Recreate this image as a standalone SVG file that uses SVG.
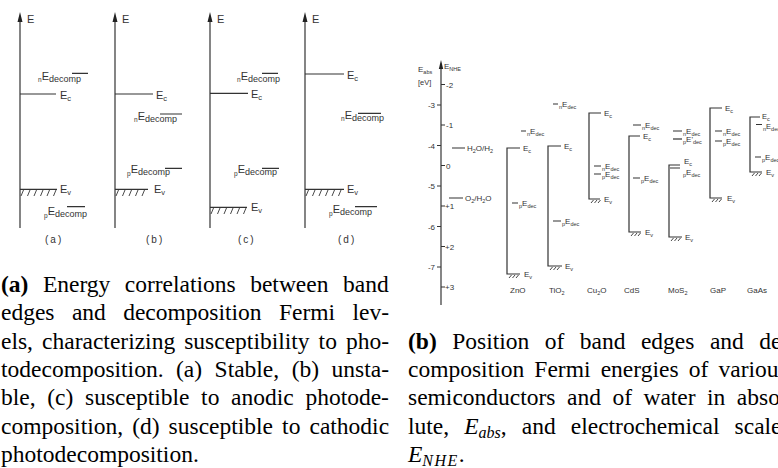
<svg xmlns="http://www.w3.org/2000/svg" width="778" height="468" viewBox="0 0 778 468">
<style>
.ln{stroke:#333;stroke-width:1.2;fill:none}
.ax{stroke:#444;stroke-width:1.3;fill:none}
.hb{stroke:#333;stroke-width:0.9;fill:none}
.arr{fill:#222}
.t{font-family:"Liberation Sans",Arial,sans-serif;fill:#333}
.L{font-size:11px}
.Ls{font-size:7.5px}
.Ld{font-size:9px}
.Lxs{font-size:6.5px}
.R{font-size:8px}
.Rs{font-size:5.5px}
.cap{font-family:"Liberation Serif","Times New Roman",serif;font-size:23.5px;fill:#000}
.sub{font-size:16px}
</style>
<rect width="778" height="468" fill="#fff"/>

<g id="connectors">
<path class="ax" d="M20,20V228 M115,20V228 M210,20V228 M305,20V228"/>
<path class="arr" d="M20,12L17.5,22H22.5Z M115,12L112.5,22H117.5Z M210,12L207.5,22H212.5Z M305,12L302.5,22H307.5Z"/>
<path class="ax" d="M441,68V305"/>
<path class="arr" d="M441,60L438.8,69H443.2Z"/>
<path class="ln" d="M437,105H441 M437,145.5H441 M437,186H441 M437,226.5H441 M437,267H441 M441,84.5H445 M441,125H445 M441,165.5H445 M441,206H445 M441,246.5H445 M441,287H445"/>
</g>

<g id="panel-a">
<text class="t L" x="27" y="23">E</text>
<path class="ln" d="M20,94H56 M20,189.3H57 M72,73.3H88 M67,206.7H85"/>
<path class="hb" d="M21,196L23.5,190 M27.5,196L30,190 M34,196L36.5,190 M40.5,196L43,190 M47,196L49.5,190 M53.5,196L56,190"/>
<text class="t L" x="60" y="99">E<tspan class="Ls" y="101">c</tspan></text>
<text class="t L" x="60" y="193">E<tspan class="Ls" y="195">v</tspan></text>
<text class="t" x="38" y="80"><tspan class="Lxs" y="82">n</tspan><tspan class="L" y="80">E</tspan><tspan class="Ld" y="82">decomp</tspan></text>
<text class="t" x="44" y="215"><tspan class="Lxs" y="218">p</tspan><tspan class="L" y="215">E</tspan><tspan class="Ld" y="217">decomp</tspan></text>
<text class="t" x="45" y="243" font-size="10" letter-spacing="2">(a)</text>
</g>

<g id="panel-b">
<text class="t L" x="122" y="23">E</text>
<path class="ln" d="M115,94H153 M115,189.3H148 M160,114H182 M165,168.3H182"/>
<path class="hb" d="M116,196L118.5,190 M122.5,196L125,190 M129,196L131.5,190 M135.5,196L138,190 M142,196L144.5,190"/>
<text class="t L" x="156" y="99">E<tspan class="Ls" y="101">c</tspan></text>
<text class="t L" x="154" y="193">E<tspan class="Ls" y="195">v</tspan></text>
<text class="t" x="134" y="120"><tspan class="Lxs" y="122">n</tspan><tspan class="L" y="120">E</tspan><tspan class="Ld" y="122">decomp</tspan></text>
<text class="t" x="127" y="173"><tspan class="Lxs" y="176">p</tspan><tspan class="L" y="173">E</tspan><tspan class="Ld" y="175">decomp</tspan></text>
<text class="t" x="146" y="243" font-size="10" letter-spacing="2">(b)</text>
</g>

<g id="panel-c">
<text class="t L" x="217" y="23">E</text>
<path class="ln" d="M210,93.3H248 M210,207.3H247 M262,73.3H278 M262,168.3H279"/>
<path class="hb" d="M211,214L213.5,208 M217.5,214L220,208 M224,214L226.5,208 M230.5,214L233,208 M237,214L239.5,208 M243.5,214L246,208"/>
<text class="t L" x="251" y="98">E<tspan class="Ls" y="100">c</tspan></text>
<text class="t L" x="251" y="211">E<tspan class="Ls" y="213">v</tspan></text>
<text class="t" x="237" y="80"><tspan class="Lxs" y="82">n</tspan><tspan class="L" y="80">E</tspan><tspan class="Ld" y="82">decomp</tspan></text>
<text class="t" x="234" y="173"><tspan class="Lxs" y="176">p</tspan><tspan class="L" y="173">E</tspan><tspan class="Ld" y="175">decomp</tspan></text>
<text class="t" x="238" y="243" font-size="10" letter-spacing="2">(c)</text>
</g>

<g id="panel-d">
<text class="t L" x="312" y="23">E</text>
<path class="ln" d="M305,74H344 M305,189.3H344 M358,113.3H381 M355,206.7H377"/>
<path class="hb" d="M306,196L308.5,190 M312.5,196L315,190 M319,196L321.5,190 M325.5,196L328,190 M332,196L334.5,190 M338.5,196L341,190"/>
<text class="t L" x="347" y="79">E<tspan class="Ls" y="81">c</tspan></text>
<text class="t L" x="347" y="193">E<tspan class="Ls" y="195">v</tspan></text>
<text class="t" x="341" y="119"><tspan class="Lxs" y="121">n</tspan><tspan class="L" y="119">E</tspan><tspan class="Ld" y="121">decomp</tspan></text>
<text class="t" x="329" y="213"><tspan class="Lxs" y="216">p</tspan><tspan class="L" y="213">E</tspan><tspan class="Ld" y="215">decomp</tspan></text>
<text class="t" x="338" y="243" font-size="10" letter-spacing="2">(d)</text>
</g>

<g id="axis-labels">
<text class="t R" x="418" y="72">E<tspan class="Rs" y="74">abs</tspan></text>
<text class="t" x="418" y="85" font-size="7.5">[eV]</text>
<text class="t R" x="444" y="69">E<tspan class="Rs" y="71">NHE</tspan></text>
<g class="t" font-size="8" text-anchor="end">
<text x="435" y="108">-3</text>
<text x="435" y="148.5">-4</text>
<text x="435" y="189">-5</text>
<text x="435" y="229.5">-6</text>
<text x="435" y="270">-7</text>
</g>
<g class="t" font-size="8">
<text x="446" y="87.5">-2</text>
<text x="446" y="128">-1</text>
<text x="446" y="168.5">0</text>
<text x="445" y="209">+1</text>
<text x="445" y="249.5">+2</text>
<text x="445" y="290">+3</text>
</g>
</g>

<g id="water">
<path class="ln" d="M452,148H465 M449,198H463"/>
<text class="t R" x="467" y="151">H<tspan class="Rs" y="153">2</tspan><tspan y="151">O/H</tspan><tspan class="Rs" y="153">2</tspan></text>
<text class="t R" x="465" y="201">O<tspan class="Rs" y="203">2</tspan><tspan y="201">/H</tspan><tspan class="Rs" y="203">2</tspan><tspan y="201">O</tspan></text>
</g>

<g id="ZnO">
<path class="ln" d="M520,148H507V274H520 M521,131H526 M512,203H518"/>
<path class="hb" d="M509,278L511.5,275 M512.5,278L515,275 M516,278L518.5,275"/>
<text class="t R" x="523" y="151">E<tspan class="Rs" y="153">c</tspan></text>
<text class="t R" x="524" y="277">E<tspan class="Rs" y="279">v</tspan></text>
<text class="t" x="527" y="134"><tspan class="Rs" y="136">n</tspan><tspan class="R" y="134">E</tspan><tspan class="Rs" y="136">dec</tspan></text>
<text class="t" x="519" y="206"><tspan class="Rs" y="208">p</tspan><tspan class="R" y="206">E</tspan><tspan class="Rs" y="208">dec</tspan></text>
<text class="t R" x="510" y="293">ZnO</text>
</g>

<g id="TiO2">
<path class="ln" d="M561,146H548V266H562 M553,104H558 M553,221H561"/>
<path class="hb" d="M550,270L552.5,267 M553.5,270L556,267 M557,270L559.5,267"/>
<text class="t R" x="564" y="149">E<tspan class="Rs" y="151">c</tspan></text>
<text class="t R" x="565" y="269">E<tspan class="Rs" y="271">v</tspan></text>
<text class="t" x="559" y="107"><tspan class="Rs" y="109">n</tspan><tspan class="R" y="107">E</tspan><tspan class="Rs" y="109">dec</tspan></text>
<text class="t" x="562" y="224"><tspan class="Rs" y="226">p</tspan><tspan class="R" y="224">E</tspan><tspan class="Rs" y="226">dec</tspan></text>
<text class="t R" x="549" y="293">TiO<tspan class="Rs" y="295">2</tspan></text>
</g>

<g id="Cu2O">
<path class="ln" d="M601,113H589V199H600 M594,166H601 M594,174H601"/>
<path class="hb" d="M591,203L593.5,200 M594.5,203L597,200 M598,203L600.5,200"/>
<text class="t R" x="604" y="116">E<tspan class="Rs" y="118">c</tspan></text>
<text class="t R" x="604" y="202">E<tspan class="Rs" y="204">v</tspan></text>
<text class="t" x="602" y="169"><tspan class="Rs" y="171">n</tspan><tspan class="R" y="169">E</tspan><tspan class="Rs" y="171">dec</tspan></text>
<text class="t" x="602" y="177"><tspan class="Rs" y="179">p</tspan><tspan class="R" y="177">E</tspan><tspan class="Rs" y="179">dec</tspan></text>
<text class="t R" x="587" y="293">Cu<tspan class="Rs" y="295">2</tspan><tspan y="293">O</tspan></text>
</g>

<g id="CdS">
<path class="ln" d="M640,136H629V232H641 M633,125H641 M633,178H640"/>
<path class="hb" d="M631,236L633.5,233 M634.5,236L637,233 M638,236L640.5,233"/>
<text class="t R" x="643" y="139">E<tspan class="Rs" y="141">c</tspan></text>
<text class="t R" x="645" y="235">E<tspan class="Rs" y="237">v</tspan></text>
<text class="t" x="642" y="128"><tspan class="Rs" y="130">n</tspan><tspan class="R" y="128">E</tspan><tspan class="Rs" y="130">dec</tspan></text>
<text class="t" x="641" y="181"><tspan class="Rs" y="183">p</tspan><tspan class="R" y="181">E</tspan><tspan class="Rs" y="183">dec</tspan></text>
<text class="t R" x="624" y="293">CdS</text>
</g>

<g id="MoS2">
<path class="ln" d="M680,165H669V237H682 M670,168H680 M673,131H682"/>
<path class="ln" stroke-width="1.8" d="M673,139H682"/>
<path class="hb" d="M671,241L673.5,238 M674.5,241L677,238 M678,241L680.5,238"/>
<text class="t R" x="684" y="164">E<tspan class="Rs" y="166">c</tspan></text>
<text class="t" x="683" y="175"><tspan class="Rs" y="177">p</tspan><tspan class="R" y="175">E</tspan><tspan class="Rs" y="177">dec</tspan></text>
<text class="t R" x="685" y="240">E<tspan class="Rs" y="242">v</tspan></text>
<text class="t" x="683" y="134"><tspan class="Rs" y="136">n</tspan><tspan class="R" y="134">E</tspan><tspan class="Rs" y="136">dec</tspan></text>
<text class="t" x="683" y="142"><tspan class="Rs" y="144">p</tspan><tspan class="R" y="142">E'</tspan><tspan class="Rs" y="144">dec</tspan></text>
<text class="t R" x="668" y="293">MoS<tspan class="Rs" y="295">2</tspan></text>
</g>

<g id="GaP">
<path class="ln" d="M722,108H710V198H722 M715,131H722 M715,141H722"/>
<path class="hb" d="M712,202L714.5,199 M715.5,202L718,199 M719,202L721.5,199"/>
<text class="t R" x="725" y="111">E<tspan class="Rs" y="113">c</tspan></text>
<text class="t R" x="727" y="201">E<tspan class="Rs" y="203">v</tspan></text>
<text class="t" x="723" y="134"><tspan class="Rs" y="136">n</tspan><tspan class="R" y="134">E</tspan><tspan class="Rs" y="136">dec</tspan></text>
<text class="t" x="723" y="144"><tspan class="Rs" y="146">p</tspan><tspan class="R" y="144">E</tspan><tspan class="Rs" y="146">dec</tspan></text>
<text class="t R" x="710" y="293">GaP</text>
</g>

<g id="GaAs">
<path class="ln" d="M760,117H750V172H762 M756,124.5H762 M755,157H761"/>
<path class="hb" d="M752,176L754.5,173 M755.5,176L758,173 M759,176L761.5,173"/>
<text class="t" x="762" y="119" font-size="7.5">E<tspan class="Rs" y="121">c</tspan></text>
<text class="t R" x="766" y="175">E<tspan class="Rs" y="177">v</tspan></text>
<text class="t" x="763" y="128.5"><tspan class="Rs" y="130.5">n</tspan><tspan font-size="7.5" y="128.5">E</tspan><tspan class="Rs" y="130.5">dec</tspan></text>
<text class="t" x="762" y="160"><tspan class="Rs" y="162">p</tspan><tspan class="R" y="160">E</tspan><tspan class="Rs" y="162">dec</tspan></text>
<text class="t R" x="747" y="293">GaAs</text>
</g>

<g id="caption-a" class="cap">
<text x="1" y="292" word-spacing="8.6"><tspan font-weight="bold">(a)</tspan> Energy correlations between band</text>
<text x="1" y="320.3" word-spacing="11.5">edges and decomposition Fermi lev-</text>
<text x="1" y="348.6" word-spacing="3.2">els, characterizing susceptibility to pho-</text>
<text x="1" y="377" word-spacing="6.6">todecomposition. (a) Stable, (b) unsta-</text>
<text x="1" y="405.2" word-spacing="5.8">ble, (c) susceptible to anodic photode-</text>
<text x="1" y="433.5" word-spacing="3.2">composition, (d) susceptible to cathodic</text>
<text x="1" y="461.8">photodecomposition.</text>
</g>

<g id="caption-b" class="cap">
<text x="408" y="348.6" word-spacing="9.6"><tspan font-weight="bold">(b)</tspan> Position of band edges and de-</text>
<text x="408" y="377" word-spacing="4.3">composition Fermi energies of various</text>
<text x="408" y="405.2" word-spacing="5.6">semiconductors and of water in abso-</text>
<text x="408" y="433.5" word-spacing="9.2">lute, <tspan font-style="italic">E</tspan><tspan font-style="italic" class="sub" dy="4">abs</tspan><tspan dy="-4">, and electrochemical scale,</tspan></text>
<text x="408" y="461.8"><tspan font-style="italic">E</tspan><tspan font-style="italic" class="sub" dy="4" letter-spacing="1.5">NHE</tspan><tspan dy="-4">.</tspan></text>
</g>
</svg>
